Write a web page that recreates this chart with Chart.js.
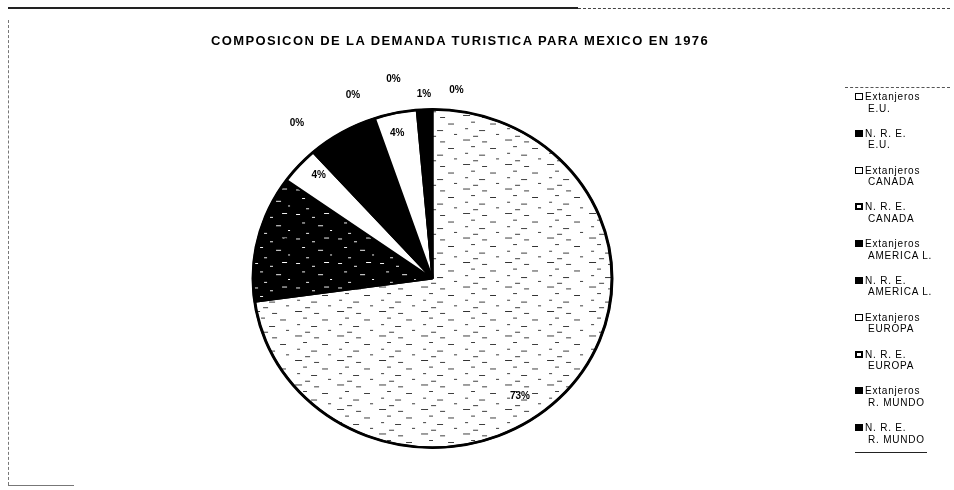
<!DOCTYPE html>
<html><head><meta charset="utf-8">
<script src="https://cdn.jsdelivr.net/npm/chart.js@4"></script>
<style>
html,body{margin:0;padding:0;background:#fff;}
#wrap{position:relative;width:954px;height:490px;overflow:hidden;font-family:"Liberation Sans",Arial,sans-serif;color:#000;}
#c{position:absolute;left:0;top:0;}
#title{position:absolute;left:150px;width:620px;top:33px;line-height:16px;text-align:center;font-weight:bold;font-size:13px;letter-spacing:1.4px;}
#legend{position:absolute;left:852px;top:91px;font-size:10px;letter-spacing:0.8px;}
.item{position:relative;height:36.8px;width:95px;}
.box{position:absolute;left:3px;top:2px;width:8px;height:7px;box-sizing:border-box;}
.open{border:1.5px solid #000;background:#fff;}
.solid{background:#000;}
.ring{border:2px solid #000;background:#fff;}
.l1{position:absolute;left:13px;top:0;line-height:11.5px;white-space:nowrap;}
.l2{position:absolute;left:16px;top:11.5px;line-height:11.5px;white-space:nowrap;}
.ln{position:absolute;}
</style></head>
<body>
<div id="wrap">
  <canvas id="c" width="954" height="490"></canvas>
  <div class="ln" style="left:8px;top:7px;width:570px;border-top:2px solid #222;"></div>
  <div class="ln" style="left:578px;top:8px;width:372px;border-top:1px dashed #444;"></div>
  <div class="ln" style="left:8px;top:20px;height:465px;border-left:1px dashed #777;"></div>
  <div class="ln" style="left:8px;top:485px;width:66px;border-top:1px solid #777;"></div>
  <div class="ln" style="left:845px;top:87px;width:105px;border-top:1px dashed #555;"></div>
  <div class="ln" style="left:855px;top:452px;width:72px;border-top:1px solid #222;"></div>
  <div id="title">COMPOSICON DE LA DEMANDA TURISTICA PARA MEXICO EN 1976</div>
  <div id="legend"></div>
</div>
<script>
// ---- data ----
const groupNames = ["Extanjeros", "N. R. E.", "Extanjeros", "N. R. E.", "Extanjeros", "N. R. E.", "Extanjeros", "N. R. E.", "Extanjeros", "N. R. E."];
const regionNames = ["E.U.", "E.U.", "CANADA", "CANADA", "AMERICA L.", "AMERICA L.", "EUROPA", "EUROPA", "R. MUNDO", "R. MUNDO"];
const shares = [72.8, 12.1, 3.5, 0.2, 5.9, 0.3, 3.8, 0.1, 1.2, 0.1];

// ---- styling ----
const SY = 0.942; // vertical squash of the scanned pie
function makePattern(bg, fg, dashes, w, h){
  const c = document.createElement('canvas'); c.width = w; c.height = h;
  const g = c.getContext('2d');
  g.fillStyle = bg; g.fillRect(0,0,w,h);
  g.fillStyle = fg; dashes.forEach(d => g.fillRect(d[0], d[1], d[2], d[3]));
  return g.createPattern(c, 'repeat');
}
const lightPat = makePattern('#fff', '#333',
  [[1,1,7,1],[20,3,5,1],[9,8,4,1],[28,10,6,1],[3,15,3,1],[17,17,6,1],[34,21,3,1],[11,23,5,1]], 42, 26);
const darkPat = makePattern('#000', '#fff',
  [[2,2,4,1],[18,5,3,1],[30,1,5,1],[8,11,3,1],[24,14,5,1],[36,19,2,1],[12,22,3,1]], 42, 26);
const fills = [lightPat, darkPat, '#fff', '#000', '#000', '#000', '#fff', '#fff', '#000', '#000'];
const boxStyles = ['open','solid','open','ring','solid','solid','open','ring','solid','solid'];
// label placement (angle shift in degrees, radius factor)
const labShift = [14, 0, 2, 2, 0, -3, -1, -5.6, 0, 7];
const labK     = [0.85, 0.86, 0.88, 1.19, 0.86, 1.17, 0.88, 1.2, 1.09, 1.12];

const ellipsePlugin = {
  id: 'ellipse',
  beforeDatasetsDraw(chart){
    const el = chart.getDatasetMeta(0).data[0];
    const ctx = chart.ctx;
    ctx.save();
    ctx.translate(el.x, el.y); ctx.scale(1, SY); ctx.translate(-el.x, -el.y);
  },
  afterDatasetsDraw(chart){
    const ctx = chart.ctx;
    const el = chart.getDatasetMeta(0).data[0];
    // heavier outer rim, as in the photocopy
    ctx.beginPath();
    ctx.arc(el.x, el.y, el.outerRadius, 0, Math.PI*2);
    ctx.lineWidth = 3; ctx.strokeStyle = '#000'; ctx.stroke();
    ctx.restore();
  }
};
const labelPlugin = {
  id: 'pctLabels',
  afterDraw(chart){
    const ctx = chart.ctx;
    const data = chart.data.datasets[0].data;
    const total = data.reduce((a,b)=>a+b,0);
    ctx.save();
    ctx.font = 'bold 10px "Liberation Sans", Arial, sans-serif';
    ctx.fillStyle = '#000';
    ctx.textAlign = 'center'; ctx.textBaseline = 'middle';
    chart.getDatasetMeta(0).data.forEach((el, i) => {
      const mid = (el.startAngle + el.endAngle)/2 + labShift[i]*Math.PI/180;
      const r = el.outerRadius * labK[i];
      const x = el.x + r*Math.cos(mid);
      const y = el.y + r*SY*Math.sin(mid);
      ctx.fillText(Math.round(data[i]/total*100) + '%', x, y);
    });
    ctx.restore();
  }
};

new Chart(document.getElementById('c').getContext('2d'), {
  type: 'pie',
  data: {
    labels: groupNames.map((g,i) => g + ' ' + regionNames[i]),
    datasets: [{ data: shares, backgroundColor: fills, borderColor: '#000', borderWidth: 2 }]
  },
  options: {
    responsive: false, animation: false,
    layout: { padding: { left: 252, right: 341, top: 98, bottom: 31 } },
    plugins: { legend: { display: false }, tooltip: { enabled: false }, title: { display: false } }
  },
  plugins: [ellipsePlugin, labelPlugin]
});

// HTML legend built from the data arrays
const lg = document.getElementById('legend');
groupNames.forEach((g, i) => {
  const it = document.createElement('div'); it.className = 'item';
  it.innerHTML = '<div class="box ' + boxStyles[i] + '"></div><div class="l1">' + g + '</div><div class="l2">' + regionNames[i] + '</div>';
  lg.appendChild(it);
});
</script>
</body></html>
